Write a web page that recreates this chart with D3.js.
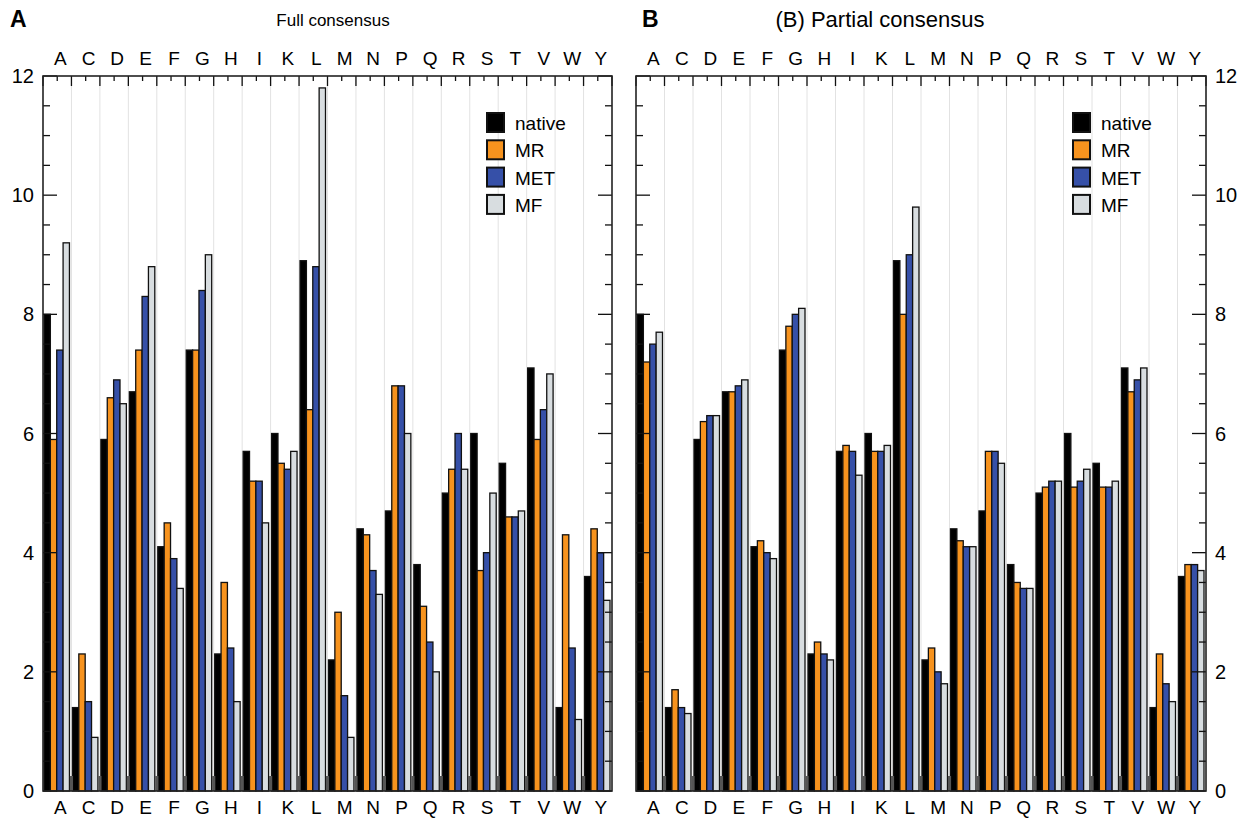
<!DOCTYPE html>
<html><head><meta charset="utf-8">
<script src="https://cdn.jsdelivr.net/npm/d3@7"></script>
<style>body{margin:0;background:#fff}svg{display:block;font-family:"Liberation Sans",Arial,Helvetica,sans-serif}</style>
</head><body>
<svg id="c" width="1241" height="820"></svg>
<script>
const categories = ["A","C","D","E","F","G","H","I","K","L","M","N","P","Q","R","S","T","V","W","Y"];
const series = ["native","MR","MET","MF"];
const seriesColors = ["#000000","#f7931e","#3650a8","#d8dde0"];

// (A) Full consensus
const fullNative = [8.0,1.4,5.9,6.7,4.1,7.4,2.3,5.7,6.0,8.9,2.2,4.4,4.7,3.8,5.0,6.0,5.5,7.1,1.4,3.6];
const fullMR     = [5.9,2.3,6.6,7.4,4.5,7.4,3.5,5.2,5.5,6.4,3.0,4.3,6.8,3.1,5.4,3.7,4.6,5.9,4.3,4.4];
const fullMET    = [7.4,1.5,6.9,8.3,3.9,8.4,2.4,5.2,5.4,8.8,1.6,3.7,6.8,2.5,6.0,4.0,4.6,6.4,2.4,4.0];
const fullMF     = [9.2,0.9,6.5,8.8,3.4,9.0,1.5,4.5,5.7,11.8,0.9,3.3,6.0,2.0,5.4,5.0,4.7,7.0,1.2,3.2];

// (B) Partial consensus
const partNative = [8.0,1.4,5.9,6.7,4.1,7.4,2.3,5.7,6.0,8.9,2.2,4.4,4.7,3.8,5.0,6.0,5.5,7.1,1.4,3.6];
const partMR     = [7.2,1.7,6.2,6.7,4.2,7.8,2.5,5.8,5.7,8.0,2.4,4.2,5.7,3.5,5.1,5.1,5.1,6.7,2.3,3.8];
const partMET    = [7.5,1.4,6.3,6.8,4.0,8.0,2.3,5.7,5.7,9.0,2.0,4.1,5.7,3.4,5.2,5.2,5.1,6.9,1.8,3.8];
const partMF     = [7.7,1.3,6.3,6.9,3.9,8.1,2.2,5.3,5.8,9.8,1.8,4.1,5.5,3.4,5.2,5.4,5.2,7.1,1.5,3.7];

const yTicksMajor = [0,2,4,6,8,10,12];

const svg = d3.select("#c");
const yTop = 76, yBottom = 791;
const y = d3.scaleLinear().domain([0,12]).range([yBottom, yTop]);

function panel(opts){
  const {x0, x1, data, labelSide, legendX} = opts;
  const g = svg.append("g");
  const x = d3.scaleBand().domain(categories).range([x0, x1]).padding(0);
  const bw = x.bandwidth();
  const xs = d3.scaleBand().domain(series).range([1, bw - 2]).padding(0);
  const bounds = d3.range(1, categories.length).map(i => x0 + i * bw);

  // gridlines
  g.selectAll(".grid").data(bounds).join("line")
    .attr("x1", d => d).attr("x2", d => d).attr("y1", yTop).attr("y2", yBottom)
    .attr("stroke", "#e2e2e2").attr("stroke-width", 1);

  // bars
  series.forEach((s, si) => {
    g.selectAll(".bar" + si).data(categories).join("rect")
      .attr("x", c => x(c) + xs(s))
      .attr("width", xs.bandwidth())
      .attr("y", (c, i) => y(data[si][i]))
      .attr("height", (c, i) => yBottom - y(data[si][i]))
      .attr("fill", seriesColors[si])
      .attr("stroke", "#111").attr("stroke-width", 1.3);
  });

  // bottom tick stubs at boundaries
  g.selectAll(".stub").data(bounds).join("rect")
    .attr("x", d => d - 1.6).attr("width", 3.2).attr("y", yBottom - 15).attr("height", 15)
    .attr("fill", "#555");

  // top ticks
  const topLong = d3.range(0, categories.length + 1).map(i => x0 + i * bw);
  g.selectAll(".tl").data(topLong).join("line")
    .attr("x1", d => d).attr("x2", d => d).attr("y1", yTop).attr("y2", yTop + 10)
    .attr("stroke", "#111").attr("stroke-width", 1.3);
  g.selectAll(".ts").data(categories).join("line")
    .attr("x1", c => x(c) + bw/2).attr("x2", c => x(c) + bw/2).attr("y1", yTop).attr("y2", yTop + 5)
    .attr("stroke", "#111").attr("stroke-width", 1.3);

  // y ticks on both sides
  const yt = d3.range(0, 12.01, 0.5);
  [x0, x1].forEach((ax, k) => {
    const dir = k === 0 ? 1 : -1;
    g.selectAll(".yt" + k).data(yt).join("line")
      .attr("x1", ax).attr("x2", d => ax + dir * (d % 2 === 0 ? 14 : 7))
      .attr("y1", d => y(d)).attr("y2", d => y(d))
      .attr("stroke", "#111").attr("stroke-width", 1.3);
  });

  // frame
  g.append("rect").attr("x", x0).attr("y", yTop).attr("width", x1 - x0).attr("height", yBottom - yTop)
    .attr("fill", "none").attr("stroke", "#222").attr("stroke-width", 1.6);

  // category labels top and bottom
  g.selectAll(".lt").data(categories).join("text")
    .attr("x", c => x(c) + bw/2 + 3).attr("y", 65)
    .attr("text-anchor", "middle").attr("font-size", 19).text(c => c);
  g.selectAll(".lb").data(categories).join("text")
    .attr("x", c => x(c) + bw/2 + 3).attr("y", 814)
    .attr("text-anchor", "middle").attr("font-size", 19).text(c => c);

  // y labels
  g.selectAll(".yl").data(yTicksMajor).join("text")
    .attr("x", labelSide === "left" ? x0 - 9 : x1 + 9)
    .attr("y", d => y(d) + 7)
    .attr("text-anchor", labelSide === "left" ? "end" : "start")
    .attr("font-size", 20).text(d => d);

  // legend
  const lg = g.append("g");
  series.forEach((s, i) => {
    lg.append("rect").attr("x", legendX).attr("y", 113 + i * 27.3).attr("width", 17).attr("height", 19)
      .attr("fill", seriesColors[i]).attr("stroke", "#111").attr("stroke-width", 2);
    lg.append("text").attr("x", legendX + 28).attr("y", 130 + i * 27.3)
      .attr("font-size", 19).text(s);
  });
}

panel({x0: 43, x1: 612, data: [fullNative, fullMR, fullMET, fullMF], labelSide: "left", legendX: 487});
panel({x0: 636, x1: 1206, data: [partNative, partMR, partMET, partMF], labelSide: "right", legendX: 1073});

// titles
svg.append("text").attr("x", 10).attr("y", 27).attr("font-size", 23).attr("font-weight", "bold").text("A");
svg.append("text").attr("x", 642).attr("y", 27).attr("font-size", 23).attr("font-weight", "bold").text("B");
svg.append("text").attr("x", 333).attr("y", 26).attr("text-anchor", "middle").attr("font-size", 17).text("Full consensus");
svg.append("text").attr("x", 880).attr("y", 27).attr("text-anchor", "middle").attr("font-size", 22).text("(B) Partial consensus");
</script>
</body></html>
